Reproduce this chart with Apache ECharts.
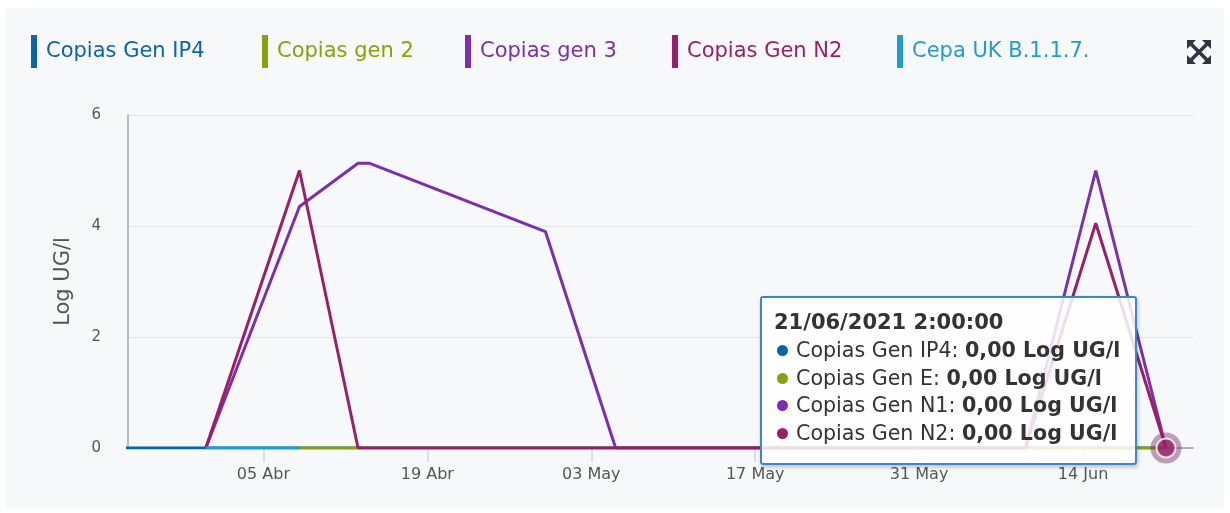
<!DOCTYPE html>
<html>
<head>
<meta charset="utf-8">
<script src="https://cdn.jsdelivr.net/npm/echarts@6/dist/echarts.min.js"></script>
<style>
  html, body { margin: 0; padding: 0; background: #ffffff; }
  #card { position: absolute; left: 6px; top: 8px; width: 1218px; height: 500px; background: #f7f8fa; }
  #chart { position: absolute; left: 0; top: 0; width: 1230px; height: 513px; }
</style>
</head>
<body>
<div id="card"></div>
<div id="chart"></div>
<script>
// ---- data ----
const dates = ['2021-03-24T02:00', '2021-03-31T02:00', '2021-04-08T02:00', '2021-04-13T02:00', '2021-04-14T02:00',
  '2021-04-29T02:00', '2021-05-05T02:00', '2021-05-12T02:00', '2021-05-19T02:00', '2021-05-26T02:00',
  '2021-06-02T02:00', '2021-06-09T02:00', '2021-06-15T02:00', '2021-06-21T02:00'];
const genIP4 = [0, 0, 0, 0, 0, 0, 0, 0, 0, 0, 0, 0, 0, 0];
const gen2   = [null, null, 0, 0, 0, 0, 0, 0, 0, 0, 0, 0, 0, 0];
const gen3   = [null, 0, 4.35, 5.13, 5.13, 3.9, 0, 0, 0, 0, 0, 0, 5.0, 0];
const genN2  = [null, 0, 5.0, 0, 0, 0, 0, 0, 0, 0, 0, 0, 4.05, 0];
const cepaUK = [null, 0, 0, null, null, null, null, null, null, null, null, null, null, null];

const legendNames = ['Copias Gen IP4', 'Copias gen 2', 'Copias gen 3', 'Copias Gen N2', 'Cepa UK B.1.1.7.'];
const tooltipNames = ['Copias Gen IP4', 'Copias Gen E', 'Copias Gen N1', 'Copias Gen N2', 'Cepa UK B.1.1.7.'];
const tickDates = ['2021-04-05T00:00', '2021-04-19T00:00', '2021-05-03T00:00', '2021-05-17T00:00', '2021-05-31T00:00', '2021-06-14T00:00'];
const tickLabels = ['05 Abr', '19 Abr', '03 May', '17 May', '31 May', '14 Jun'];
const yTicks = [0, 2, 4, 6];
const unit = 'Log UG/l';
const xMin = '2021-03-24T10:30';
const xMax = '2021-06-23T09:20';

// ---- styling ----
const colors = ['#0a63b1', '#8aa10b', '#7b2eb0', '#9a1f66', '#2499d8'];
const values = [genIP4, gen2, gen3, genN2, cepaUK];
const legendLeft = [31, 262, 465, 672, 897];

const ts = s => new Date(s).getTime();
const tsDates = dates.map(ts);
const tsTicks = tickDates.map(ts);

const chart = echarts.init(document.getElementById('chart'), null, { renderer: 'canvas' });

const series = values.map((arr, i) => ({
  name: legendNames[i],
  type: 'line',
  data: arr.map((v, j) => [tsDates[j], v]),
  showSymbol: false,
  symbol: 'none',
  connectNulls: false,
  clip: true,
  color: colors[i],
  lineStyle: { width: 3, color: colors[i] },
  emphasis: { disabled: true },
  animation: false
}));

const last = dates.length - 1;
series.push({
  name: 'halo', type: 'scatter', silent: true, animation: false, z: 5,
  data: [[tsDates[last], genN2[last]]],
  symbolSize: 31,
  itemStyle: { color: 'rgba(112,42,96,0.55)' }
});
series.push({
  name: 'marker', type: 'scatter', animation: false, z: 6,
  data: [[tsDates[last], genN2[last]]],
  symbolSize: 19,
  itemStyle: { color: colors[3], borderColor: '#ffffff', borderWidth: 2 },
  emphasis: { disabled: true }
});

function fmtNum(v) { return v.toFixed(2).replace('.', ','); }
function pad(n) { return String(n).padStart(2, '0'); }

const legends = legendNames.map((n, i) => ({
  left: legendLeft[i], top: 35, padding: 0,
  icon: 'rect', itemWidth: 6, itemHeight: 33,
  selectedMode: false,
  data: [{ name: n, itemStyle: { color: colors[i] }, textStyle: { color: colors[i] } }],
  textStyle: { fontSize: 21, fontFamily: 'DejaVu Sans', padding: [0, 0, 0, 4], color: colors[i] }
}));

const iconColor = '#2b3640';
const cx = 1199, cy = 52;
const option = {
  animation: false,
  backgroundColor: 'transparent',
  legend: legends,
  grid: { left: 128, right: 37, top: 115, bottom: 65, containLabel: false },
  xAxis: {
    type: 'value', min: ts(xMin), max: ts(xMax),
    axisLine: { show: true, lineStyle: { color: '#9a9a9a', width: 1.5 } },
    axisTick: { show: true, customValues: tsTicks, length: 14, lineStyle: { color: '#ccd6eb', width: 1.5 } },
    axisLabel: {
      customValues: tsTicks, margin: 19, color: '#555', fontSize: 16, fontFamily: 'DejaVu Sans',
      formatter: v => { const k = tsTicks.indexOf(v); return k >= 0 ? tickLabels[k] : ''; }
    },
    splitLine: { show: false }
  },
  yAxis: {
    type: 'value', min: yTicks[0], max: yTicks[yTicks.length - 1], interval: yTicks[1] - yTicks[0],
    name: unit, nameLocation: 'middle', nameGap: 54, nameRotate: 90,
    nameTextStyle: { fontSize: 21, color: '#555', fontFamily: 'DejaVu Sans' },
    axisLine: { show: true, lineStyle: { color: '#a8a8a8', width: 1.5 } },
    axisTick: { show: false },
    axisLabel: { margin: 27, color: '#555', fontSize: 15, fontFamily: 'DejaVu Sans' },
    splitLine: { lineStyle: { color: '#e4e4e4', width: 1 } }
  },
  tooltip: {
    trigger: 'item', triggerOn: 'none', alwaysShowContent: true,
    position: [760, 296],
    backgroundColor: 'rgba(255,255,255,0.85)',
    borderColor: '#3d87c7', borderWidth: 2, borderRadius: 3,
    padding: [10, 15, 16, 12],
    extraCssText: 'box-shadow: 1px 2px 4px rgba(0,0,0,0.25);',
    formatter: p => {
      const idx = tsDates.indexOf(p.value[0]);
      const d = new Date(tsDates[idx]);
      const head = pad(d.getDate()) + '/' + pad(d.getMonth() + 1) + '/' + d.getFullYear() + ' ' +
        d.getHours() + ':' + pad(d.getMinutes()) + ':' + pad(d.getSeconds());
      let html = '<div style="font-family:DejaVu Sans;color:#333;">';
      html += '<div style="font-weight:bold;font-size:21px;line-height:29px;">' + head + '</div>';
      values.forEach((arr, i) => {
        if (arr[idx] === null || arr[idx] === undefined) return;
        html += '<div style="font-size:20.6px;line-height:27.5px;white-space:nowrap;">' +
          '<span style="display:inline-block;width:11px;height:11px;border-radius:50%;background:' + colors[i] +
          ';margin:0 8px 1px 3px;"></span>' + tooltipNames[i] + ': <b>' + fmtNum(arr[idx]) + ' ' + unit + '</b></div>';
      });
      html += '</div>';
      return html;
    }
  },
  graphic: [
    { type: 'line', shape: { x1: cx - 8, y1: cy - 8, x2: cx + 8, y2: cy + 8 }, style: { stroke: iconColor, lineWidth: 3.5 } },
    { type: 'line', shape: { x1: cx + 8, y1: cy - 8, x2: cx - 8, y2: cy + 8 }, style: { stroke: iconColor, lineWidth: 3.5 } },
    { type: 'polygon', shape: { points: [[cx - 12, cy - 12], [cx - 3, cy - 12], [cx - 12, cy - 3]] }, style: { fill: iconColor } },
    { type: 'polygon', shape: { points: [[cx + 12, cy - 12], [cx + 3, cy - 12], [cx + 12, cy - 3]] }, style: { fill: iconColor } },
    { type: 'polygon', shape: { points: [[cx - 12, cy + 12], [cx - 3, cy + 12], [cx - 12, cy + 3]] }, style: { fill: iconColor } },
    { type: 'polygon', shape: { points: [[cx + 12, cy + 12], [cx + 3, cy + 12], [cx + 12, cy + 3]] }, style: { fill: iconColor } }
  ],
  series: series
};

chart.setOption(option);
chart.dispatchAction({ type: 'showTip', seriesIndex: series.length - 1, dataIndex: 0 });
</script>
</body>
</html>
